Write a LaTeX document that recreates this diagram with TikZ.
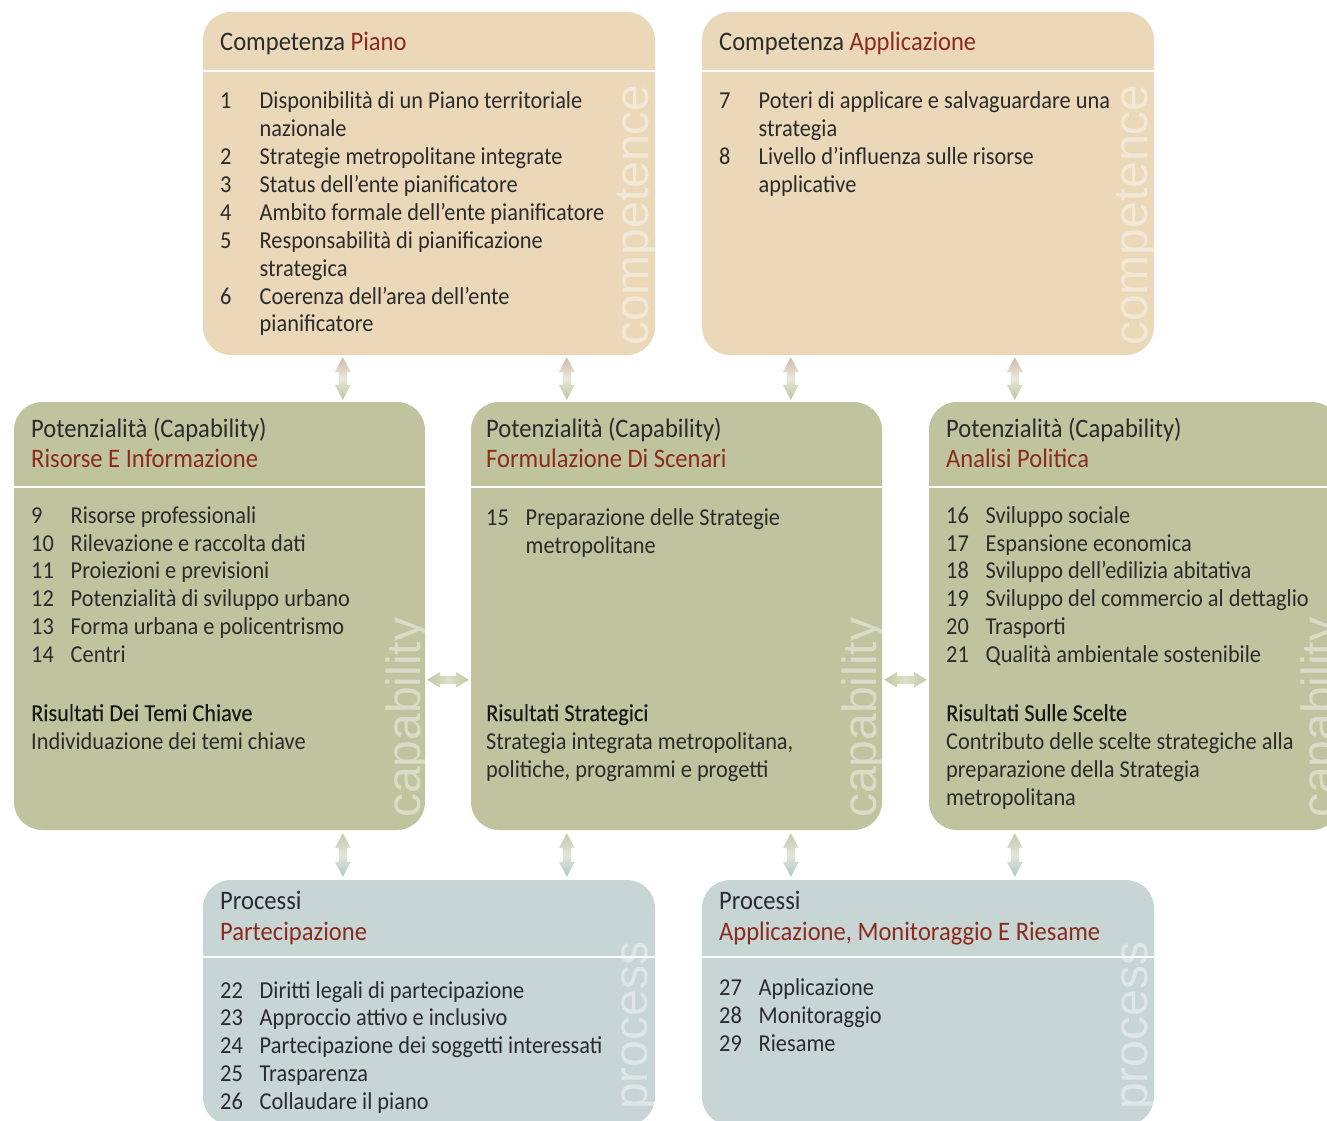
\documentclass[tikz,border=0pt]{standalone}
\usepackage{fontspec}
\setmainfont{Carlito}[FakeStretch=0.92]
\newfontfamily\outfont{Carlito}[FakeStretch=0.92, FakeBold=0.15]
\newfontfamily\wmfont{Liberation Sans}
\usetikzlibrary{calc}

\definecolor{beige}{HTML}{EAD8B9}
\definecolor{olive}{HTML}{BFC49F}
\definecolor{slate}{HTML}{C7D5D5}
\definecolor{ink}{HTML}{2B2B2B}
\definecolor{rust}{HTML}{8C2B1C}
\definecolor{blush}{HTML}{D7B6A6}
\definecolor{pale}{HTML}{E8EAD8}
\definecolor{palegrey}{HTML}{E2E6DA}
\definecolor{steel}{HTML}{B2C6C6}
\definecolor{oliveA}{HTML}{C3C8A6}
\definecolor{oliveB}{HTML}{DDE0C8}

\tikzset{
  panel/.style={rectangle, rounded corners=28pt, inner sep=0pt, draw=none},
  txt/.style={anchor=base west, inner sep=0pt, text=ink,
              font=\fontsize{24.3}{28}\selectfont},
  outcome/.style={txt, text=black!90, font=\outfont\fontsize{24.3}{28}\selectfont},
  head/.style={anchor=base west, inner sep=0pt, text=ink,
               font=\fontsize{26.7}{30}\selectfont},
  wm/.style={anchor=base west, inner sep=0pt, rotate=90, text=white,
             text opacity=0.42, font=\wmfont\fontsize{48}{48}\selectfont},
  rule/.style={white, line width=2.5pt}
}

% double-headed vertical arrow between two named points
\newcommand\vdarrow[5]{%
  \path[top color=#3, bottom color=#5, middle color=#4]
    let \p1=(#1), \p2=(#2) in
    (\x1,\y1) -- (\x1+8pt,\y1-15pt) -- (\x1+4pt,\y1-15pt)
    -- (\x1+4pt,\y2+15pt) -- (\x1+8pt,\y2+15pt) -- (\x1,\y2)
    -- (\x1-8pt,\y2+15pt) -- (\x1-4pt,\y2+15pt)
    -- (\x1-4pt,\y1-15pt) -- (\x1-8pt,\y1-15pt) -- cycle;}
% double-headed horizontal arrow between two named points
\newcommand\hdarrow[2]{%
  \path[left color=oliveA, right color=oliveA, middle color=oliveB]
    let \p1=(#1), \p2=(#2) in
    (\x1,\y1) -- (\x1+13pt,\y1+8pt) -- (\x1+13pt,\y1+4pt)
    -- (\x2-13pt,\y1+4pt) -- (\x2-13pt,\y1+8pt) -- (\x2,\y1)
    -- (\x2-13pt,\y1-8pt) -- (\x2-13pt,\y1-4pt)
    -- (\x1+13pt,\y1-4pt) -- (\x1+13pt,\y1-8pt) -- cycle;}
% numbered entry: name, x, baseline, number, text
\newcommand\entry[5]{%
  \node[txt] (#1n) at (#2,#3) {#4};
  \node[txt] (#1t) at (#2+39.5,#3) {#5};}

\begin{document}
\begin{tikzpicture}[x=1pt, y=-1pt]
\useasboundingbox (0,0) rectangle (1327,1120);
\clip (0,0) rectangle (1327,1120);
\fill[white] (0,0) rectangle (1327,1120);

% ---------- panels ----------
\node[panel, fill=beige, minimum width=452pt, minimum height=343pt] (cp) at (429,183.5) {};
\node[panel, fill=beige, minimum width=452pt, minimum height=343pt] (ca) at (928,183.5) {};
\node[panel, fill=olive, minimum width=411pt, minimum height=428pt] (rl) at (219.5,616) {};
\node[panel, fill=olive, minimum width=411pt, minimum height=428pt] (rc) at (676.5,616) {};
\node[panel, fill=olive, minimum width=411pt, minimum height=428pt] (rr) at (1134.5,616) {};
\node[panel, fill=slate, minimum width=452pt, minimum height=245pt] (pp) at (429,1002.5) {};
\node[panel, fill=slate, minimum width=452pt, minimum height=245pt] (pm) at (928,1002.5) {};

% header rules
\foreach \b/\d in {cp/59, ca/59, rl/85, rc/85, rr/85, pp/77, pm/77}
  \draw[rule] ($(\b.north west)+(0,\d)$) -- ($(\b.north east)+(0,\d)$);

% ---------- watermarks ----------
\node[wm] (wcp) at (648,346) {competence};
\node[wm] (wca) at (1147,346) {competence};
\node[wm] (wrl) at (420,818) {capability};
\node[wm] (wrc) at (876,818) {capability};
\node[wm] (wrr) at (1335,818) {capability};
\node[wm] (wpp) at (647,1110) {process};
\node[wm] (wpm) at (1147,1110) {process};

% ---------- Competenza Piano ----------
\node[head] (hcp) at (220,50) {Competenza \textcolor{rust}{Piano}};
\entry{c1}{220}{108}{1}{Disponibilità di un Piano territoriale}
\node[txt] (c1b) at (259.5,136) {nazionale};
\entry{c2}{220}{164}{2}{Strategie metropolitane integrate}
\entry{c3}{220}{192}{3}{Status dell’ente pianificatore}
\entry{c4}{220}{220}{4}{Ambito formale dell’ente pianificatore}
\entry{c5}{220}{248}{5}{Responsabilità di pianificazione}
\node[txt] (c5b) at (259.5,276) {strategica};
\entry{c6}{220}{304}{6}{Coerenza dell’area dell’ente}
\node[txt] (c6b) at (259.5,331) {pianificatore};

% ---------- Competenza Applicazione ----------
\node[head] (hca) at (719,50) {Competenza \textcolor{rust}{Applicazione}};
\entry{c7}{719}{108}{7}{Poteri di applicare e salvaguardare una}
\node[txt] (c7b) at (758.5,136) {strategia};
\entry{c8}{719}{164}{8}{Livello d’influenza sulle risorse}
\node[txt] (c8b) at (758.5,192) {applicative};

% ---------- Risorse E Informazione ----------
\node[head] (hrl) at (31,437) {Potenzialità (Capability)};
\node[head, text=rust] (hrl2) at (31,467) {Risorse E Informazione};
\entry{r9}{31}{523}{9}{Risorse professionali}
\entry{r10}{31}{551}{10}{Rilevazione e raccolta dati}
\entry{r11}{31}{578}{11}{Proiezioni e previsioni}
\entry{r12}{31}{606}{12}{Potenzialità di sviluppo urbano}
\entry{r13}{31}{634}{13}{Forma urbana e policentrismo}
\entry{r14}{31}{662}{14}{Centri}
\node[outcome] (rlo) at (31,721) {Risultati Dei Temi Chiave};
\node[txt] (rlo2) at (31,749) {Individuazione dei temi chiave};

% ---------- Formulazione Di Scenari ----------
\node[head] (hrc) at (486,437) {Potenzialità (Capability)};
\node[head, text=rust] (hrc2) at (486,467) {Formulazione Di Scenari};
\entry{r15}{486}{525}{15}{Preparazione delle Strategie}
\node[txt] (r15b) at (525.5,553) {metropolitane};
\node[outcome] (rco) at (486,721) {Risultati Strategici};
\node[txt] (rco2) at (486,749) {Strategia integrata metropolitana,};
\node[txt] (rco3) at (486,777) {politiche, programmi e progetti};

% ---------- Analisi Politica ----------
\node[head] (hrr) at (946,437) {Potenzialità (Capability)};
\node[head, text=rust] (hrr2) at (946,467) {Analisi Politica};
\entry{r16}{946}{523}{16}{Sviluppo sociale}
\entry{r17}{946}{551}{17}{Espansione economica}
\entry{r18}{946}{578}{18}{Sviluppo dell’edilizia abitativa}
\entry{r19}{946}{606}{19}{Sviluppo del commercio al dettaglio}
\entry{r20}{946}{634}{20}{Trasporti}
\entry{r21}{946}{662}{21}{Qualità ambientale sostenibile}
\node[outcome] (rro) at (946,721) {Risultati Sulle Scelte};
\node[txt] (rro2) at (946,749) {Contributo delle scelte strategiche alla};
\node[txt] (rro3) at (946,777) {preparazione della Strategia};
\node[txt] (rro4) at (946,805) {metropolitana};

% ---------- Partecipazione ----------
\node[head] (hpp) at (220,909) {Processi};
\node[head, text=rust] (hpp2) at (220,940) {Partecipazione};
\entry{p22}{220}{998}{22}{Diritti legali di partecipazione}
\entry{p23}{220}{1025}{23}{Approccio attivo e inclusivo}
\entry{p24}{220}{1053}{24}{Partecipazione dei soggetti interessati}
\entry{p25}{220}{1081}{25}{Trasparenza}
\entry{p26}{220}{1109}{26}{Collaudare il piano}

% ---------- Applicazione, Monitoraggio E Riesame ----------
\node[head] (hpm) at (719,909) {Processi};
\node[head, text=rust] (hpm2) at (719,940) {Applicazione, Monitoraggio E Riesame};
\entry{p27}{719}{995}{27}{Applicazione}
\entry{p28}{719}{1023}{28}{Monitoraggio}
\entry{p29}{719}{1051}{29}{Riesame}

% ---------- connectors ----------
\coordinate (u1) at ($(cp.south west)+(140,2)$);
\coordinate (d1) at ($(rl.north west)+(329,-2)$);
\coordinate (u2) at ($(cp.south west)+(364,2)$);
\coordinate (d2) at ($(rc.north west)+(96,-2)$);
\coordinate (u3) at ($(ca.south west)+(89,2)$);
\coordinate (d3) at ($(rc.north west)+(320,-2)$);
\coordinate (u4) at ($(ca.south west)+(313,2)$);
\coordinate (d4) at ($(rr.north west)+(86,-2)$);
\foreach \i in {1,...,4} \vdarrow{u\i}{d\i}{blush}{pale}{olive};

\coordinate (u5) at ($(rl.south west)+(329,3)$);
\coordinate (d5) at ($(pp.north west)+(140,-3)$);
\coordinate (u6) at ($(rc.south west)+(96,3)$);
\coordinate (d6) at ($(pp.north west)+(364,-3)$);
\coordinate (u7) at ($(rc.south west)+(320,3)$);
\coordinate (d7) at ($(pm.north west)+(89,-3)$);
\coordinate (u8) at ($(rr.south west)+(86,3)$);
\coordinate (d8) at ($(pm.north west)+(313,-3)$);
\foreach \i in {5,...,8} \vdarrow{u\i}{d\i}{oliveA}{palegrey}{steel};

\coordinate (l1) at ($(rl.north east)+(2,278)$);
\coordinate (r1) at ($(rc.north west)+(-2,278)$);
\coordinate (l2) at ($(rc.north east)+(2,278)$);
\coordinate (r2) at ($(rr.north west)+(-2,278)$);
\hdarrow{l1}{r1}
\hdarrow{l2}{r2}
\end{tikzpicture}
\end{document}
